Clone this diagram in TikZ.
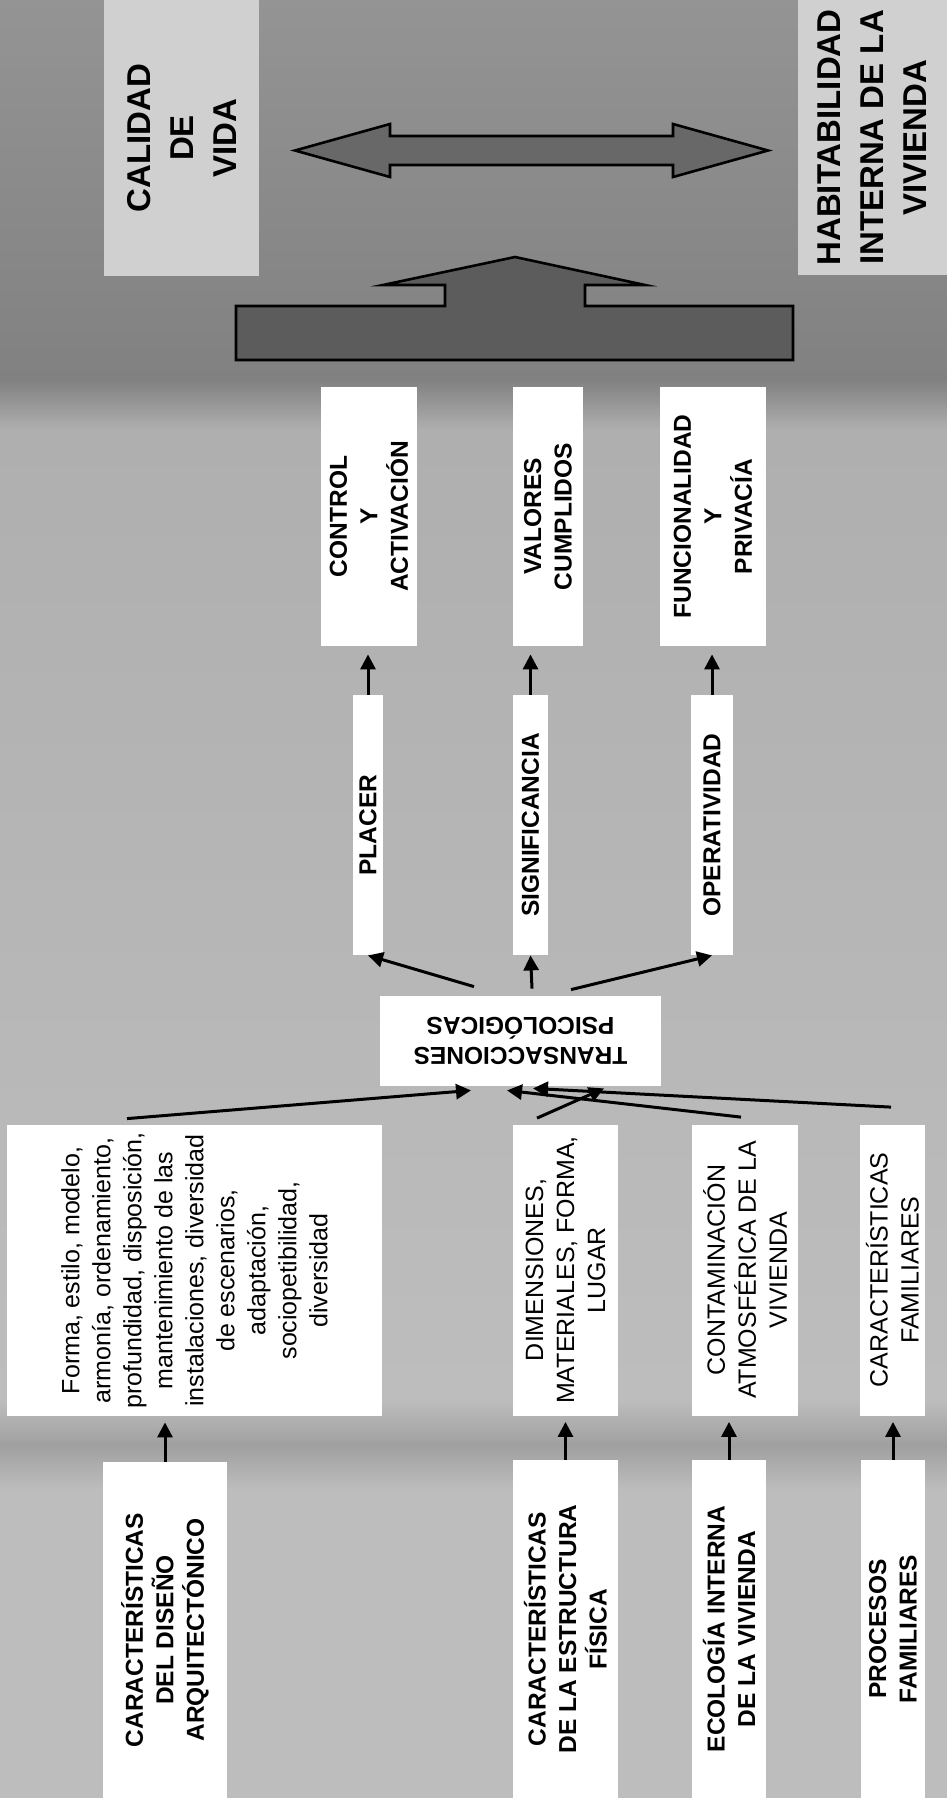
\documentclass[tikz,border=0pt]{standalone}
\usepackage{fontspec}
\setmainfont{Liberation Sans}
\usetikzlibrary{positioning,arrows.meta,calc}

\definecolor{bgdark}{HTML}{818181}
\definecolor{bgmid}{HTML}{AFAFAF}
\definecolor{bglight}{HTML}{BDBDBD}
\definecolor{bgband}{HTML}{A0A0A0}
\definecolor{titlegray}{HTML}{D0D0D0}
\definecolor{blockgray}{HTML}{686868}

\tikzset{
  box/.style={fill=white, rotate=90, inner sep=0pt, align=center,
    font=\bfseries\fontsize{12.25}{15.25}\selectfont},
  plainbox/.style={box, font=\fontsize{12.5}{15.5}\selectfont},
  titlebox/.style={box, fill=titlegray, font=\bfseries\fontsize{16.5}{21.5}\selectfont},
  arr/.style={-{Triangle[length=7.5pt,width=7.5pt]}, line width=1.5pt},
  block/.style={fill=blockgray, draw=black, line width=1.3pt, line join=miter},
}

\begin{document}
\begin{tikzpicture}[x=0.5pt, y=-0.5pt]
% scanned page background
\useasboundingbox (0,0) rectangle (947,1798);
\fill[bglight] (0,0) rectangle (947,1798);
\shade[top color=bgdark!85!white, bottom color=bgdark] (0,0) rectangle (947,380);
\shade[top color=bgdark, bottom color=bgmid] (0,380) rectangle (947,430);
\shade[top color=bgmid, bottom color=bglight] (0,430) rectangle (947,1400);
\shade[top color=bglight, bottom color=bglight, middle color=bgband] (0,1400) rectangle (947,1490);

% top level
\node[titlebox, minimum width=138pt, minimum height=77.5pt] (calidad) at (181.5,138) {CALIDAD\\DE\\VIDA};
\node[titlebox, minimum width=137.5pt, minimum height=74.5pt] (habit) at (872.5,137.5) {HABITABILIDAD\\INTERNA DE LA\\VIVIENDA};

% block arrows
\draw[block] (295,150.5) -- (390,124) -- (390,136) -- (673,136) -- (673,124) -- (768,150.5)
  -- (673,177) -- (673,165) -- (390,165) -- (390,177) -- cycle;
\draw[block, fill=blockgray!88!black] (236,360) -- (236,306) -- (445,306) -- (445,285) -- (383,285)
  -- (515,257) -- (645,285) -- (585,285) -- (585,306) -- (793,306) -- (793,360) -- cycle;

% outcomes
\node[box, minimum width=129.5pt, minimum height=48pt] (control) at (369,516.5) {CONTROL\\Y\\ACTIVACIÓN};
\node[box, minimum width=129.5pt, minimum height=35pt] (valores) at (548,516.5) {VALORES\\CUMPLIDOS};
\node[box, minimum width=129.5pt, minimum height=53pt] (funcion) at (713,516.5) {FUNCIONALIDAD\\Y\\PRIVACÍA};

\node[box, minimum width=130pt, minimum height=15pt] (placer) at (368,825) {PLACER};
\node[box, minimum width=130pt, minimum height=17.5pt] (signif) at (530.5,825) {SIGNIFICANCIA};
\node[box, minimum width=130pt, minimum height=21pt] (operat) at (712,825) {OPERATIVIDAD};

% upside down (box turns 90, plus 90 more)
\node[box, rotate=90, minimum width=140.5pt, minimum height=45pt] (trans) at (520.5,1041) {TRANSACCIONES\\PSICOLÓGICAS};

% descriptions
\node[plainbox, minimum width=145.5pt, minimum height=187.5pt] (forma) at (194.5,1270.5)
  {Forma, estilo, modelo,\\armonía, ordenamiento,\\profundidad, disposición,\\mantenimiento de las\\instalaciones, diversidad\\de escenarios,\\adaptación,\\sociopetibilidad,\\diversidad};
\node[plainbox, minimum width=145.5pt, minimum height=52.5pt] (dimens) at (565.5,1270) {DIMENSIONES,\\MATERIALES, FORMA,\\LUGAR};
\node[plainbox, minimum width=145.5pt, minimum height=53pt] (contam) at (745,1270) {CONTAMINACIÓN\\ATMOSFÉRICA DE LA\\VIVIENDA};
\node[plainbox, minimum width=145.5pt, minimum height=32.5pt] (carfam) at (892.5,1270) {CARACTERÍSTICAS\\FAMILIARES};

% sources
\node[box, minimum width=168pt, minimum height=62pt] (diseno) at (165,1630) {CARACTERÍSTICAS\\DEL DISEÑO\\ARQUITECTÓNICO};
\node[box, minimum width=169pt, minimum height=52.5pt] (estruc) at (565.5,1629) {CARACTERÍSTICAS\\DE LA ESTRUCTURA\\FÍSICA};
\node[box, minimum width=169pt, minimum height=37pt] (ecolog) at (729,1629) {ECOLOGÍA INTERNA\\DE LA VIVIENDA};
\node[box, minimum width=169pt, minimum height=32pt] (procesos) at (893,1629) {PROCESOS\\FAMILIARES};

% arrows
\draw[arr, shorten >=3pt] (diseno.east) -- (diseno.east |- forma.west);
\draw[arr, shorten >=3pt] (estruc.east) -- (estruc.east |- dimens.west);
\draw[arr, shorten >=3pt] (ecolog.east) -- (ecolog.east |- contam.west);
\draw[arr, shorten >=3pt] (procesos.east) -- (procesos.east |- carfam.west);

\draw[arr] ($(forma.east)+(-67.5,-6)$) -- ($(trans.north)+(-49.5,4)$);
\draw[arr] ($(dimens.east)+(-28.5,-6)$) -- ($(trans.north)+(83.5,2)$);
\draw[arr] ($(contam.east)+(-4,-7)$) -- ($(trans.north)+(-13.5,4)$);
\draw[arr] ($(carfam.east)+(-1.5,-17)$) -- ($(trans.north)+(12.5,2)$);

\draw[arr] ($(trans.south)+(-46.5,-9)$) -- (placer.west);
\draw[arr] ($(trans.south)+(11.5,-7)$) -- (signif.west);
\draw[arr] ($(trans.south)+(50.5,-6)$) -- (operat.west);

\draw[arr, shorten >=4pt] (placer.east) -- (placer.east |- control.west);
\draw[arr, shorten >=4pt] (signif.east) -- (signif.east |- valores.west);
\draw[arr, shorten >=4pt] (operat.east) -- (operat.east |- funcion.west);

\end{tikzpicture}
\end{document}
